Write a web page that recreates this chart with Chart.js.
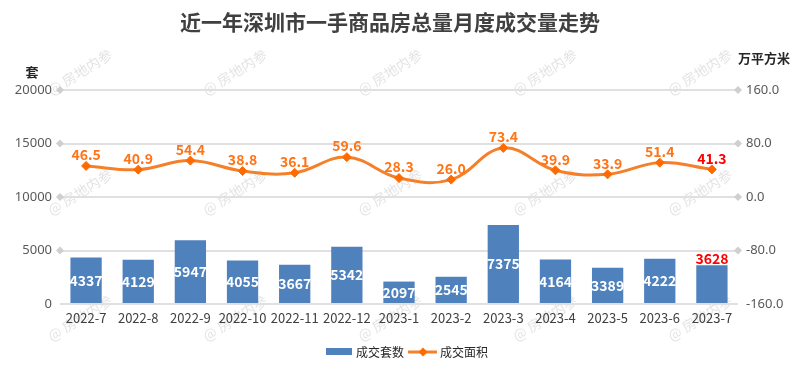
<!DOCTYPE html>
<html>
<head>
<meta charset="utf-8">
<script src="https://cdn.jsdelivr.net/npm/chart.js@4/dist/chart.umd.min.js"></script>
<style>
  html, body { margin: 0; padding: 0; background: #fff; }
  #wrap { width: 808px; height: 388px; position: relative; }
</style>
</head>
<body>
<div id="wrap"><canvas id="dealChart"></canvas></div>
<script>
// Chart data
const months = ['2022-7', '2022-8', '2022-9', '2022-10', '2022-11', '2022-12', '2023-1', '2023-2', '2023-3', '2023-4', '2023-5', '2023-6', '2023-7'];
const dealUnits = [4337, 4129, 5947, 4055, 3667, 5342, 2097, 2545, 7375, 4164, 3389, 4222, 3628];
const dealArea = [46.5, 40.9, 54.4, 38.8, 36.1, 59.6, 28.3, 26.0, 73.4, 39.9, 33.9, 51.4, 41.3];
const leftTicks = [0, 5000, 10000, 15000, 20000];
const rightTicks = [-160, -80, 0, 80, 160];

const titleText = '近一年深圳市一手商品房总量月度成交量走势';
const leftUnit = '套';
const rightUnit = '万平方米';
const legendNames = ['成交套数', '成交面积'];
const watermark = '@ 房地内参';

const BAR_BLUE = '#4f81bd';
const LINE_ORANGE = '#f5802a';
const LABEL_ORANGE = '#ff7417';
const RED = '#ff0000';
const CJK = "'Noto Sans CJK SC', 'Noto Sans', sans-serif";

// watermark, title, units and legend
const decorPlugin = {
    id: 'decor',
    beforeDraw(chart) {
        const c = chart.ctx;
        c.save();
        c.font = '14px ' + CJK;
        c.fillStyle = 'rgba(175, 175, 175, 0.35)';
        c.textAlign = 'center';
        c.textBaseline = 'middle';
        [72, 192, 318].forEach(y => {
            [80, 235, 390, 545, 700].forEach(x => {
                c.save();
                c.translate(x, y);
                c.rotate(-32 * Math.PI / 180);
                c.fillText(watermark, 0, 0);
                c.restore();
            });
        });
        c.restore();
    },
    afterDraw(chart) {
        const c = chart.ctx;
        c.save();
        c.textBaseline = 'middle';

        c.font = 'bold 21px ' + CJK;
        c.fillStyle = '#404040';
        c.textAlign = 'center';
        c.fillText(titleText, 390, 22);

        c.font = 'bold 13px ' + CJK;
        c.fillStyle = '#262626';
        c.fillText(leftUnit, 32, 72);
        c.fillText(rightUnit, 764, 58);

        // legend
        c.font = '12px ' + CJK;
        c.textAlign = 'left';
        c.fillStyle = BAR_BLUE;
        c.fillRect(326, 348, 26, 7);
        c.fillStyle = '#262626';
        c.fillText(legendNames[0], 356, 352);

        c.strokeStyle = LINE_ORANGE;
        c.lineWidth = 3;
        c.beginPath();
        c.moveTo(408, 352);
        c.lineTo(437, 352);
        c.stroke();
        c.fillStyle = '#ff6a00';
        c.beginPath();
        c.moveTo(423, 347.5);
        c.lineTo(427.5, 352);
        c.lineTo(423, 356.5);
        c.lineTo(418.5, 352);
        c.closePath();
        c.fill();
        c.fillStyle = '#262626';
        c.fillText(legendNames[1], 440, 352);
        c.restore();
    }
};

// diamonds at both ends of the grid lines
const gridEndsPlugin = {
    id: 'gridEnds',
    beforeDatasetsDraw(chart) {
        const c = chart.ctx;
        const area = chart.chartArea;
        const y = chart.scales.y;
        c.save();
        c.fillStyle = '#cfcfcf';
        leftTicks.forEach(v => {
            if (v === 0) return;
            const py = y.getPixelForValue(v);
            [area.left, area.right].forEach(px => {
                c.beginPath();
                c.moveTo(px, py - 4);
                c.lineTo(px + 4, py);
                c.lineTo(px, py + 4);
                c.lineTo(px - 4, py);
                c.closePath();
                c.fill();
            });
        });
        c.restore();
    }
};

// value labels on bars and line points
const valueLabelPlugin = {
    id: 'valueLabels',
    afterDatasetsDraw(chart) {
        const c = chart.ctx;
        const last = months.length - 1;
        c.save();
        c.font = 'bold 14px ' + CJK;
        c.textAlign = 'center';

        chart.getDatasetMeta(0).data.forEach((bar, i) => {
            if (i === last) {
                c.fillStyle = RED;
                c.textBaseline = 'bottom';
                c.fillText(String(dealUnits[i]), bar.x, bar.y + 1);
            } else {
                c.fillStyle = '#ffffff';
                c.textBaseline = 'middle';
                c.fillText(String(dealUnits[i]), bar.x, (bar.y + bar.base) / 2);
            }
        });

        c.textBaseline = 'bottom';
        chart.getDatasetMeta(1).data.forEach((pt, i) => {
            c.fillStyle = i === last ? RED : LABEL_ORANGE;
            c.fillText(dealArea[i].toFixed(1), pt.x, pt.y - 4);
        });
        c.restore();
    }
};

const ctx = document.getElementById('dealChart');
new Chart(ctx, {
    data: {
        labels: months,
        datasets: [{
            type: 'bar',
            label: legendNames[0],
            data: dealUnits,
            yAxisID: 'y',
            backgroundColor: BAR_BLUE,
            barPercentage: 0.6,
            categoryPercentage: 1,
            order: 1
        }, {
            type: 'line',
            label: legendNames[1],
            data: dealArea,
            yAxisID: 'y1',
            borderColor: LINE_ORANGE,
            borderWidth: 3,
            tension: 0.4,
            pointStyle: 'rectRot',
            pointRadius: 4.5,
            pointBackgroundColor: '#ff6a00',
            pointBorderColor: '#ff6a00',
            pointBorderWidth: 1,
            order: 0
        }]
    },
    options: {
        responsive: true,
        maintainAspectRatio: false,
        animation: false,
        layout: { padding: { top: 90, left: 0, right: 0, bottom: 0 } },
        plugins: {
            legend: { display: false },
            title: { display: false },
            tooltip: { enabled: false }
        },
        scales: {
            x: {
                grid: { display: false, drawTicks: false },
                border: { display: false },
                ticks: {
                    padding: 6,
                    color: '#404040',
                    font: { size: 13, family: CJK },
                    maxRotation: 0,
                    autoSkip: false
                },
                afterFit(scale) { scale.height = 84; }
            },
            y: {
                position: 'left',
                min: 0,
                max: 20000,
                afterBuildTicks(scale) { scale.ticks = leftTicks.map(v => ({ value: v })); },
                grid: { color: '#e0e0e0', lineWidth: 2, drawTicks: false },
                border: { display: false },
                ticks: {
                    padding: 8,
                    color: '#595959',
                    font: { size: 13, family: "'Noto Sans', sans-serif" },
                    callback: v => String(v)
                },
                afterFit(scale) { scale.width = 60; }
            },
            y1: {
                position: 'right',
                min: -160,
                max: 160,
                afterBuildTicks(scale) { scale.ticks = rightTicks.map(v => ({ value: v })); },
                grid: { display: false, drawTicks: false },
                border: { display: false },
                ticks: {
                    padding: 8,
                    color: '#595959',
                    font: { size: 13, family: "'Noto Sans', sans-serif" },
                    callback: v => Number(v).toFixed(1)
                },
                afterFit(scale) { scale.width = 70; }
            }
        }
    },
    plugins: [decorPlugin, gridEndsPlugin, valueLabelPlugin]
});
</script>
</body>
</html>
